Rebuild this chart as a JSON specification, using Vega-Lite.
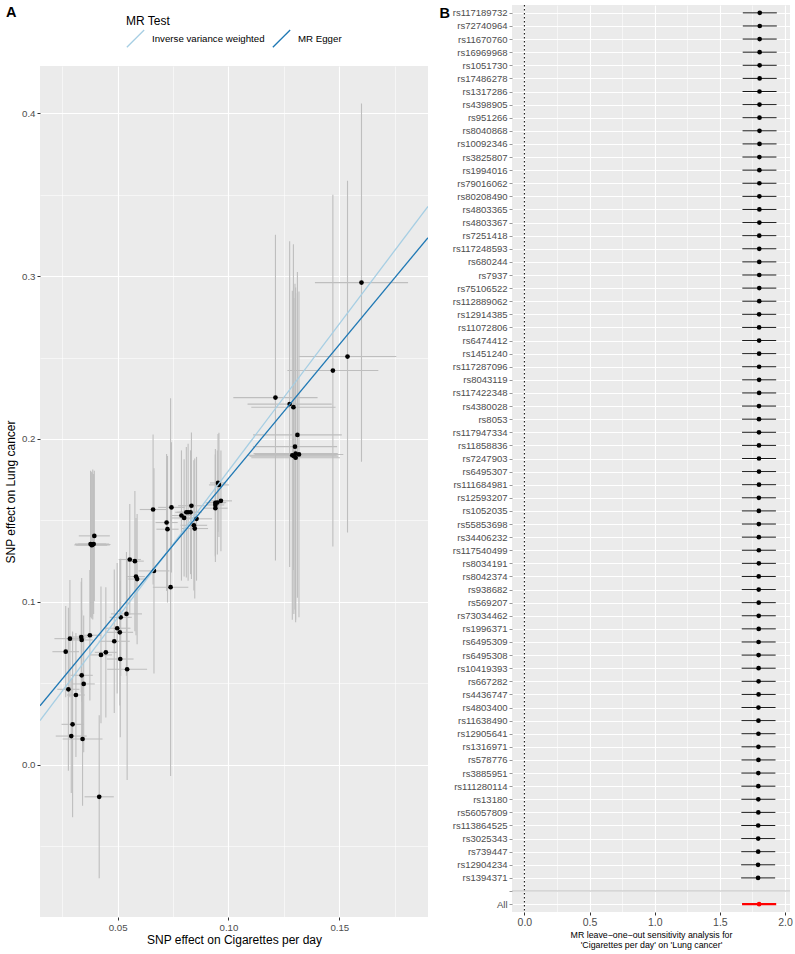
{
  "$schema": "https://vega.github.io/schema/vega-lite/v6.json",
  "padding": {"left": 4, "top": 4, "right": 0, "bottom": 0},
  "spacing": 11,
  "resolve": {"scale": {"color": "independent", "strokeWidth": "independent"}, "legend": {"color": "independent", "strokeWidth": "independent"}},
  "config": {
    "font": "Liberation Sans",
    "view": {"fill": "#EBEBEB", "stroke": null},
    "axis": {
      "domain": false,
      "tickColor": "#333333",
      "tickSize": 3,
      "labelColor": "#4D4D4D",
      "labelFontSize": 9.7,
      "labelPadding": 2,
      "titleColor": "black",
      "titleFontWeight": "normal",
      "gridColor": "white"
    }
  },
  "datasets": {
    "scatter": [
      {"bx": 0.160, "by": 0.296, "xlo": 0.139, "xhi": 0.181, "ylo": 0.186, "yhi": 0.406},
      {"bx": 0.1537, "by": 0.2506, "xlo": 0.1317, "xhi": 0.1757, "ylo": 0.1426, "yhi": 0.3586},
      {"bx": 0.1471, "by": 0.242, "xlo": 0.1266, "xhi": 0.1676, "ylo": 0.134, "yhi": 0.350},
      {"bx": 0.1212, "by": 0.2254, "xlo": 0.1022, "xhi": 0.1402, "ylo": 0.1254, "yhi": 0.3254},
      {"bx": 0.1276, "by": 0.2214, "xlo": 0.1086, "xhi": 0.1466, "ylo": 0.1214, "yhi": 0.3214},
      {"bx": 0.1293, "by": 0.2195, "xlo": 0.1103, "xhi": 0.1483, "ylo": 0.1195, "yhi": 0.3195},
      {"bx": 0.1311, "by": 0.2025, "xlo": 0.1111, "xhi": 0.1511, "ylo": 0.1025, "yhi": 0.3025},
      {"bx": 0.130, "by": 0.1953, "xlo": 0.111, "xhi": 0.149, "ylo": 0.0953, "yhi": 0.2953},
      {"bx": 0.1288, "by": 0.190, "xlo": 0.1088, "xhi": 0.1488, "ylo": 0.089, "yhi": 0.291},
      {"bx": 0.1303, "by": 0.191, "xlo": 0.1113, "xhi": 0.1493, "ylo": 0.089, "yhi": 0.293},
      {"bx": 0.1318, "by": 0.1905, "xlo": 0.1118, "xhi": 0.1518, "ylo": 0.0905, "yhi": 0.2905},
      {"bx": 0.1303, "by": 0.1885, "xlo": 0.1103, "xhi": 0.1503, "ylo": 0.0875, "yhi": 0.2895},
      {"bx": 0.1295, "by": 0.1895, "xlo": 0.1095, "xhi": 0.1495, "ylo": 0.0925, "yhi": 0.2865},
      {"bx": 0.0953, "by": 0.173, "xlo": 0.0917, "xhi": 0.0989, "ylo": 0.143, "yhi": 0.203},
      {"bx": 0.0957, "by": 0.1718, "xlo": 0.0912, "xhi": 0.1002, "ylo": 0.1398, "yhi": 0.2038},
      {"bx": 0.0941, "by": 0.1608, "xlo": 0.0896, "xhi": 0.0986, "ylo": 0.1278, "yhi": 0.1938},
      {"bx": 0.0966, "by": 0.162, "xlo": 0.0916, "xhi": 0.1016, "ylo": 0.131, "yhi": 0.193},
      {"bx": 0.0941, "by": 0.1595, "xlo": 0.0901, "xhi": 0.0981, "ylo": 0.1285, "yhi": 0.1905},
      {"bx": 0.0941, "by": 0.1575, "xlo": 0.0886, "xhi": 0.0996, "ylo": 0.1245, "yhi": 0.1905},
      {"bx": 0.095, "by": 0.161, "xlo": 0.091, "xhi": 0.099, "ylo": 0.129, "yhi": 0.193},
      {"bx": 0.0833, "by": 0.159, "xlo": 0.0773, "xhi": 0.0893, "ylo": 0.114, "yhi": 0.204},
      {"bx": 0.0788, "by": 0.153, "xlo": 0.0738, "xhi": 0.0838, "ylo": 0.113, "yhi": 0.193},
      {"bx": 0.080, "by": 0.1515, "xlo": 0.074, "xhi": 0.086, "ylo": 0.1155, "yhi": 0.1875},
      {"bx": 0.081, "by": 0.155, "xlo": 0.076, "xhi": 0.086, "ylo": 0.115, "yhi": 0.195},
      {"bx": 0.0818, "by": 0.155, "xlo": 0.0768, "xhi": 0.0868, "ylo": 0.113, "yhi": 0.197},
      {"bx": 0.0829, "by": 0.155, "xlo": 0.0779, "xhi": 0.0879, "ylo": 0.117, "yhi": 0.193},
      {"bx": 0.0856, "by": 0.151, "xlo": 0.0786, "xhi": 0.0926, "ylo": 0.113, "yhi": 0.189},
      {"bx": 0.0844, "by": 0.147, "xlo": 0.0784, "xhi": 0.0904, "ylo": 0.107, "yhi": 0.187},
      {"bx": 0.0848, "by": 0.145, "xlo": 0.0788, "xhi": 0.0908, "ylo": 0.102, "yhi": 0.188},
      {"bx": 0.0743, "by": 0.158, "xlo": 0.0683, "xhi": 0.0803, "ylo": 0.118, "yhi": 0.198},
      {"bx": 0.0721, "by": 0.1487, "xlo": 0.0671, "xhi": 0.0771, "ylo": 0.1067, "yhi": 0.1907},
      {"bx": 0.0725, "by": 0.1446, "xlo": 0.0675, "xhi": 0.0775, "ylo": 0.0996, "yhi": 0.1896},
      {"bx": 0.066, "by": 0.1567, "xlo": 0.060, "xhi": 0.072, "ylo": 0.1107, "yhi": 0.2027},
      {"bx": 0.0664, "by": 0.119, "xlo": 0.0594, "xhi": 0.0734, "ylo": 0.056, "yhi": 0.182},
      {"bx": 0.0739, "by": 0.109, "xlo": 0.0659, "xhi": 0.0819, "ylo": -0.007, "yhi": 0.225},
      {"bx": 0.0555, "by": 0.126, "xlo": 0.0505, "xhi": 0.0605, "ylo": 0.092, "yhi": 0.160},
      {"bx": 0.0578, "by": 0.125, "xlo": 0.0538, "xhi": 0.0618, "ylo": 0.082, "yhi": 0.168},
      {"bx": 0.0583, "by": 0.1155, "xlo": 0.0543, "xhi": 0.0623, "ylo": 0.0795, "yhi": 0.1515},
      {"bx": 0.0588, "by": 0.114, "xlo": 0.0548, "xhi": 0.0628, "ylo": 0.074, "yhi": 0.154},
      {"bx": 0.0395, "by": 0.1405, "xlo": 0.0325, "xhi": 0.0465, "ylo": 0.1005, "yhi": 0.1805},
      {"bx": 0.0378, "by": 0.1355, "xlo": 0.0308, "xhi": 0.0448, "ylo": 0.0905, "yhi": 0.1805},
      {"bx": 0.0385, "by": 0.135, "xlo": 0.0305, "xhi": 0.0465, "ylo": 0.091, "yhi": 0.179},
      {"bx": 0.0392, "by": 0.1355, "xlo": 0.0322, "xhi": 0.0462, "ylo": 0.0925, "yhi": 0.1785},
      {"bx": 0.0388, "by": 0.1352, "xlo": 0.0308, "xhi": 0.0468, "ylo": 0.0892, "yhi": 0.1812},
      {"bx": 0.0383, "by": 0.1348, "xlo": 0.0313, "xhi": 0.0453, "ylo": 0.0898, "yhi": 0.1798},
      {"bx": 0.054, "by": 0.0926, "xlo": 0.047, "xhi": 0.061, "ylo": 0.0546, "yhi": 0.1306},
      {"bx": 0.0514, "by": 0.0905, "xlo": 0.0464, "xhi": 0.0564, "ylo": 0.0545, "yhi": 0.1265},
      {"bx": 0.0498, "by": 0.0838, "xlo": 0.0438, "xhi": 0.0558, "ylo": 0.0438, "yhi": 0.1238},
      {"bx": 0.051, "by": 0.0813, "xlo": 0.045, "xhi": 0.057, "ylo": 0.0363, "yhi": 0.1263},
      {"bx": 0.0485, "by": 0.0758, "xlo": 0.0415, "xhi": 0.0555, "ylo": 0.0318, "yhi": 0.1198},
      {"bx": 0.0375, "by": 0.0795, "xlo": 0.0325, "xhi": 0.0425, "ylo": 0.0395, "yhi": 0.1195},
      {"bx": 0.0336, "by": 0.0784, "xlo": 0.0286, "xhi": 0.0386, "ylo": 0.0444, "yhi": 0.1124},
      {"bx": 0.0338, "by": 0.0766, "xlo": 0.0288, "xhi": 0.0388, "ylo": 0.0386, "yhi": 0.1146},
      {"bx": 0.0285, "by": 0.0774, "xlo": 0.0215, "xhi": 0.0355, "ylo": 0.0414, "yhi": 0.1134},
      {"bx": 0.0266, "by": 0.0694, "xlo": 0.0206, "xhi": 0.0326, "ylo": 0.0414, "yhi": 0.0974},
      {"bx": 0.0425, "by": 0.0674, "xlo": 0.0375, "xhi": 0.0475, "ylo": 0.0254, "yhi": 0.1094},
      {"bx": 0.0447, "by": 0.069, "xlo": 0.0397, "xhi": 0.0497, "ylo": 0.029, "yhi": 0.109},
      {"bx": 0.0512, "by": 0.0649, "xlo": 0.0452, "xhi": 0.0572, "ylo": 0.0169, "yhi": 0.1129},
      {"bx": 0.0543, "by": 0.0586, "xlo": 0.0453, "xhi": 0.0633, "ylo": -0.0094, "yhi": 0.1266},
      {"bx": 0.0338, "by": 0.0549, "xlo": 0.0288, "xhi": 0.0388, "ylo": 0.0149, "yhi": 0.0949},
      {"bx": 0.0347, "by": 0.0496, "xlo": 0.0297, "xhi": 0.0397, "ylo": 0.0076, "yhi": 0.0916},
      {"bx": 0.0278, "by": 0.0463, "xlo": 0.0228, "xhi": 0.0328, "ylo": -0.0037, "yhi": 0.0963},
      {"bx": 0.0312, "by": 0.0428, "xlo": 0.0272, "xhi": 0.0352, "ylo": 0.0048, "yhi": 0.0808},
      {"bx": 0.0297, "by": 0.0248, "xlo": 0.0247, "xhi": 0.0347, "ylo": -0.0322, "yhi": 0.0818},
      {"bx": 0.0291, "by": 0.0176, "xlo": 0.0221, "xhi": 0.0361, "ylo": -0.0174, "yhi": 0.0526},
      {"bx": 0.0342, "by": 0.0158, "xlo": 0.0252, "xhi": 0.0432, "ylo": -0.0252, "yhi": 0.0568},
      {"bx": 0.0417, "by": -0.0197, "xlo": 0.0351, "xhi": 0.0483, "ylo": -0.0697, "yhi": 0.0303}
    ],
    "lines": [
      {"method": "Inverse variance weighted", "x": 0.015, "y": 0.0271},
      {"method": "Inverse variance weighted", "x": 0.19, "y": 0.3428},
      {"method": "MR Egger", "x": 0.015, "y": 0.0362},
      {"method": "MR Egger", "x": 0.19, "y": 0.3236}
    ],
    "loo": [
      {"SNP": "rs117189732", "b": 1.806, "lo": 1.676, "up": 1.937, "tot": "snp"},
      {"SNP": "rs72740964", "b": 1.806, "lo": 1.676, "up": 1.937, "tot": "snp"},
      {"SNP": "rs11670760", "b": 1.805, "lo": 1.675, "up": 1.936, "tot": "snp"},
      {"SNP": "rs16969968", "b": 1.805, "lo": 1.675, "up": 1.936, "tot": "snp"},
      {"SNP": "rs1051730", "b": 1.805, "lo": 1.675, "up": 1.936, "tot": "snp"},
      {"SNP": "rs17486278", "b": 1.805, "lo": 1.675, "up": 1.936, "tot": "snp"},
      {"SNP": "rs1317286", "b": 1.804, "lo": 1.674, "up": 1.935, "tot": "snp"},
      {"SNP": "rs4398905", "b": 1.804, "lo": 1.674, "up": 1.935, "tot": "snp"},
      {"SNP": "rs951266", "b": 1.804, "lo": 1.674, "up": 1.935, "tot": "snp"},
      {"SNP": "rs8040868", "b": 1.804, "lo": 1.674, "up": 1.935, "tot": "snp"},
      {"SNP": "rs10092346", "b": 1.804, "lo": 1.674, "up": 1.935, "tot": "snp"},
      {"SNP": "rs3825807", "b": 1.803, "lo": 1.673, "up": 1.934, "tot": "snp"},
      {"SNP": "rs1994016", "b": 1.803, "lo": 1.673, "up": 1.934, "tot": "snp"},
      {"SNP": "rs79016062", "b": 1.803, "lo": 1.673, "up": 1.934, "tot": "snp"},
      {"SNP": "rs80208490", "b": 1.803, "lo": 1.673, "up": 1.934, "tot": "snp"},
      {"SNP": "rs4803365", "b": 1.803, "lo": 1.673, "up": 1.934, "tot": "snp"},
      {"SNP": "rs4803367", "b": 1.803, "lo": 1.673, "up": 1.934, "tot": "snp"},
      {"SNP": "rs7251418", "b": 1.802, "lo": 1.672, "up": 1.933, "tot": "snp"},
      {"SNP": "rs117248593", "b": 1.802, "lo": 1.672, "up": 1.933, "tot": "snp"},
      {"SNP": "rs680244", "b": 1.802, "lo": 1.672, "up": 1.933, "tot": "snp"},
      {"SNP": "rs7937", "b": 1.802, "lo": 1.672, "up": 1.933, "tot": "snp"},
      {"SNP": "rs75106522", "b": 1.802, "lo": 1.672, "up": 1.933, "tot": "snp"},
      {"SNP": "rs112889062", "b": 1.802, "lo": 1.672, "up": 1.933, "tot": "snp"},
      {"SNP": "rs12914385", "b": 1.801, "lo": 1.671, "up": 1.932, "tot": "snp"},
      {"SNP": "rs11072806", "b": 1.801, "lo": 1.671, "up": 1.932, "tot": "snp"},
      {"SNP": "rs6474412", "b": 1.801, "lo": 1.671, "up": 1.932, "tot": "snp"},
      {"SNP": "rs1451240", "b": 1.801, "lo": 1.671, "up": 1.932, "tot": "snp"},
      {"SNP": "rs117287096", "b": 1.801, "lo": 1.671, "up": 1.932, "tot": "snp"},
      {"SNP": "rs8043119", "b": 1.801, "lo": 1.671, "up": 1.932, "tot": "snp"},
      {"SNP": "rs117422348", "b": 1.801, "lo": 1.671, "up": 1.932, "tot": "snp"},
      {"SNP": "rs4380028", "b": 1.800, "lo": 1.670, "up": 1.931, "tot": "snp"},
      {"SNP": "rs8053", "b": 1.800, "lo": 1.670, "up": 1.931, "tot": "snp"},
      {"SNP": "rs117947334", "b": 1.800, "lo": 1.670, "up": 1.931, "tot": "snp"},
      {"SNP": "rs11858836", "b": 1.800, "lo": 1.670, "up": 1.931, "tot": "snp"},
      {"SNP": "rs7247903", "b": 1.800, "lo": 1.670, "up": 1.931, "tot": "snp"},
      {"SNP": "rs6495307", "b": 1.800, "lo": 1.670, "up": 1.931, "tot": "snp"},
      {"SNP": "rs111684981", "b": 1.800, "lo": 1.670, "up": 1.931, "tot": "snp"},
      {"SNP": "rs12593207", "b": 1.799, "lo": 1.669, "up": 1.930, "tot": "snp"},
      {"SNP": "rs1052035", "b": 1.799, "lo": 1.669, "up": 1.930, "tot": "snp"},
      {"SNP": "rs55853698", "b": 1.799, "lo": 1.669, "up": 1.930, "tot": "snp"},
      {"SNP": "rs34406232", "b": 1.799, "lo": 1.669, "up": 1.930, "tot": "snp"},
      {"SNP": "rs117540499", "b": 1.799, "lo": 1.669, "up": 1.930, "tot": "snp"},
      {"SNP": "rs8034191", "b": 1.799, "lo": 1.669, "up": 1.930, "tot": "snp"},
      {"SNP": "rs8042374", "b": 1.798, "lo": 1.668, "up": 1.929, "tot": "snp"},
      {"SNP": "rs938682", "b": 1.798, "lo": 1.668, "up": 1.929, "tot": "snp"},
      {"SNP": "rs569207", "b": 1.798, "lo": 1.668, "up": 1.929, "tot": "snp"},
      {"SNP": "rs73034462", "b": 1.798, "lo": 1.668, "up": 1.929, "tot": "snp"},
      {"SNP": "rs1996371", "b": 1.798, "lo": 1.668, "up": 1.929, "tot": "snp"},
      {"SNP": "rs6495309", "b": 1.797, "lo": 1.667, "up": 1.928, "tot": "snp"},
      {"SNP": "rs6495308", "b": 1.797, "lo": 1.667, "up": 1.928, "tot": "snp"},
      {"SNP": "rs10419393", "b": 1.797, "lo": 1.667, "up": 1.928, "tot": "snp"},
      {"SNP": "rs667282", "b": 1.797, "lo": 1.667, "up": 1.928, "tot": "snp"},
      {"SNP": "rs4436747", "b": 1.797, "lo": 1.667, "up": 1.928, "tot": "snp"},
      {"SNP": "rs4803400", "b": 1.796, "lo": 1.666, "up": 1.927, "tot": "snp"},
      {"SNP": "rs11638490", "b": 1.796, "lo": 1.666, "up": 1.927, "tot": "snp"},
      {"SNP": "rs12905641", "b": 1.796, "lo": 1.666, "up": 1.927, "tot": "snp"},
      {"SNP": "rs1316971", "b": 1.796, "lo": 1.666, "up": 1.927, "tot": "snp"},
      {"SNP": "rs578776", "b": 1.796, "lo": 1.666, "up": 1.927, "tot": "snp"},
      {"SNP": "rs3885951", "b": 1.795, "lo": 1.665, "up": 1.926, "tot": "snp"},
      {"SNP": "rs111280114", "b": 1.795, "lo": 1.665, "up": 1.926, "tot": "snp"},
      {"SNP": "rs13180", "b": 1.795, "lo": 1.665, "up": 1.926, "tot": "snp"},
      {"SNP": "rs56057809", "b": 1.795, "lo": 1.665, "up": 1.926, "tot": "snp"},
      {"SNP": "rs113864525", "b": 1.794, "lo": 1.664, "up": 1.925, "tot": "snp"},
      {"SNP": "rs3025343", "b": 1.794, "lo": 1.664, "up": 1.925, "tot": "snp"},
      {"SNP": "rs739447", "b": 1.794, "lo": 1.664, "up": 1.925, "tot": "snp"},
      {"SNP": "rs12904234", "b": 1.793, "lo": 1.663, "up": 1.924, "tot": "snp"},
      {"SNP": "rs1394371", "b": 1.793, "lo": 1.663, "up": 1.924, "tot": "snp"},
      {"SNP": "All", "b": 1.801, "lo": 1.670, "up": 1.932, "tot": "all"}
    ]
  },
  "hconcat": [
    {
      "spacing": 11,
      "resolve": {"scale": {"color": "independent"}, "legend": {"color": "independent"}},
      "vconcat": [
        {
          "width": 388,
          "height": 50,
          "view": {"fill": null, "stroke": null},
          "title": {"text": "A", "anchor": "start", "frame": "bounds", "fontSize": 14.5, "fontWeight": "bold", "color": "black", "offset": -15, "dx": -34},
          "data": {"name": "lines"},
          "mark": {"type": "line", "opacity": 0},
          "encoding": {
            "x": {"field": "x", "type": "quantitative", "axis": null},
            "y": {"field": "y", "type": "quantitative", "axis": null},
            "color": {"field": "method", "type": "nominal",
              "scale": {"domain": ["Inverse variance weighted", "MR Egger"], "range": ["#A6CEE3", "#1F78B4"]},
              "legend": {"orient": "none", "legendX": 86, "legendY": 11, "direction": "horizontal", "columns": 2,
                "title": "MR Test", "titleFontSize": 12, "titleFontWeight": "normal", "titleColor": "black", "titlePadding": 1,
                "labelFontSize": 9.7, "labelColor": "black", "labelOffset": 7, "columnPadding": 5, "padding": 0,
                "symbolType": "M-1,1L1,-1", "symbolSize": 300, "symbolStrokeWidth": 1.3, "symbolOpacity": 1}}
          }
        },
        {
          "width": 388,
          "height": 851,
          "layer": [
            {
              "data": {"name": "scatter"},
              "mark": {"type": "rule", "color": "#BEBEBE", "strokeWidth": 1.1},
              "encoding": {
                "x": {"field": "bx", "type": "quantitative",
                  "scale": {"domain": [0.015, 0.19], "nice": false, "zero": false},
                  "axis": {"orient": "bottom", "values": [0.025, 0.075, 0.125, 0.175], "labels": false, "ticks": false, "title": null, "grid": true, "gridWidth": 0.55}},
                "y": {"field": "ylo", "type": "quantitative",
                  "scale": {"domain": [-0.0935, 0.429], "nice": false, "zero": false},
                  "axis": {"orient": "left", "values": [-0.05, 0.05, 0.15, 0.25, 0.35], "labels": false, "ticks": false, "title": null, "grid": true, "gridWidth": 0.55}},
                "y2": {"field": "yhi"}
              }
            },
            {
              "data": {"name": "scatter"},
              "mark": {"type": "rule", "color": "#BEBEBE", "strokeWidth": 1.1},
              "encoding": {
                "x": {"field": "xlo", "type": "quantitative",
                  "axis": {"orient": "bottom", "values": [0.05, 0.1, 0.15], "format": ".2f", "grid": true, "gridWidth": 1.1, "title": "SNP effect on Cigarettes per day", "titleFontSize": 12, "titlePadding": 3}},
                "x2": {"field": "xhi"},
                "y": {"field": "by", "type": "quantitative",
                  "axis": {"orient": "left", "values": [0, 0.1, 0.2, 0.3, 0.4], "format": ".1f", "grid": true, "gridWidth": 1.1, "title": "SNP effect on Lung cancer", "titleFontSize": 12, "titlePadding": 4}}
              }
            },
            {
              "data": {"name": "scatter"},
              "mark": {"type": "circle", "color": "black", "opacity": 1, "size": 22},
              "encoding": {
                "x": {"field": "bx", "type": "quantitative", "axis": null},
                "y": {"field": "by", "type": "quantitative", "axis": null}
              }
            },
            {
              "data": {"name": "lines"},
              "mark": {"type": "line", "strokeWidth": 1.3, "clip": true},
              "encoding": {
                "x": {"field": "x", "type": "quantitative", "axis": null},
                "y": {"field": "y", "type": "quantitative", "axis": null},
                "color": {"field": "method", "type": "nominal",
                  "scale": {"domain": ["Inverse variance weighted", "MR Egger"], "range": ["#A6CEE3", "#1F78B4"]},
                  "legend": null}
              }
            }
          ],
          "resolve": {"axis": {"x": "independent", "y": "independent"}}
        }
      ]
    },
    {
      "width": 278,
      "height": 907,
      "layer": [
        {
          "data": {"values": [{}]},
          "mark": {"type": "rule", "color": "black", "strokeWidth": 1, "strokeDash": [1.5, 2.5]},
          "encoding": {
            "x": {"datum": 0, "type": "quantitative",
              "scale": {"domain": [-0.095, 2.038], "nice": false, "zero": false},
              "axis": {"orient": "bottom", "values": [0.25, 0.75, 1.25, 1.75], "labels": false, "ticks": false, "title": null, "grid": true, "gridWidth": 0.55}}
          }
        },
        {
          "data": {"name": "loo"},
          "mark": {"type": "rule"},
          "encoding": {
            "x": {"field": "lo", "type": "quantitative",
              "axis": {"orient": "bottom", "values": [0, 0.5, 1, 1.5, 2], "format": ".1f", "grid": true, "gridWidth": 1.1, "labelFontSize": 10.5,
                "title": ["MR leave\u2212one\u2212out sensitivity analysis for", "'Cigarettes per day' on 'Lung cancer'"],
                "titleFontSize": 8.8, "titleLineHeight": 10, "titlePadding": 3}},
            "x2": {"field": "up"},
            "y": {"field": "SNP", "type": "nominal", "sort": null,
              "scale": {"type": "point", "padding": 0.6, "domain": ["rs117189732", "rs72740964", "rs11670760", "rs16969968", "rs1051730", "rs17486278", "rs1317286", "rs4398905", "rs951266", "rs8040868", "rs10092346", "rs3825807", "rs1994016", "rs79016062", "rs80208490", "rs4803365", "rs4803367", "rs7251418", "rs117248593", "rs680244", "rs7937", "rs75106522", "rs112889062", "rs12914385", "rs11072806", "rs6474412", "rs1451240", "rs117287096", "rs8043119", "rs117422348", "rs4380028", "rs8053", "rs117947334", "rs11858836", "rs7247903", "rs6495307", "rs111684981", "rs12593207", "rs1052035", "rs55853698", "rs34406232", "rs117540499", "rs8034191", "rs8042374", "rs938682", "rs569207", "rs73034462", "rs1996371", "rs6495309", "rs6495308", "rs10419393", "rs667282", "rs4436747", "rs4803400", "rs11638490", "rs12905641", "rs1316971", "rs578776", "rs3885951", "rs111280114", "rs13180", "rs56057809", "rs113864525", "rs3025343", "rs739447", "rs12904234", "rs1394371", "", "All"]},
              "axis": {"orient": "left", "grid": true, "gridWidth": 1.1, "labelFontSize": 9.5, "tickSize": 3, "tickWidth": 0.5,
                "title": "B", "titleAngle": 0, "titleX": -73, "titleY": 8, "titleAlign": "left", "titleBaseline": "middle", "titleFontSize": 14.5, "titleFontWeight": "bold"}},
            "color": {"field": "tot", "type": "nominal", "scale": {"domain": ["snp", "all"], "range": ["black", "red"]}, "legend": null},
            "strokeWidth": {"field": "tot", "type": "nominal", "scale": {"domain": ["snp", "all"], "range": [0.9, 2.4]}, "legend": null}
          }
        },
        {
          "data": {"name": "loo"},
          "mark": {"type": "circle", "opacity": 1, "size": 22},
          "encoding": {
            "x": {"field": "b", "type": "quantitative", "axis": null},
            "y": {"field": "SNP", "type": "nominal", "sort": null},
            "color": {"field": "tot", "type": "nominal", "legend": null}
          }
        },
        {
          "data": {"values": [{"SNP": ""}]},
          "mark": {"type": "rule", "color": "#BEBEBE", "strokeWidth": 1},
          "encoding": {
            "y": {"field": "SNP", "type": "nominal", "sort": null}
          }
        }
      ],
      "resolve": {"axis": {"x": "independent"}}
    }
  ]
}
